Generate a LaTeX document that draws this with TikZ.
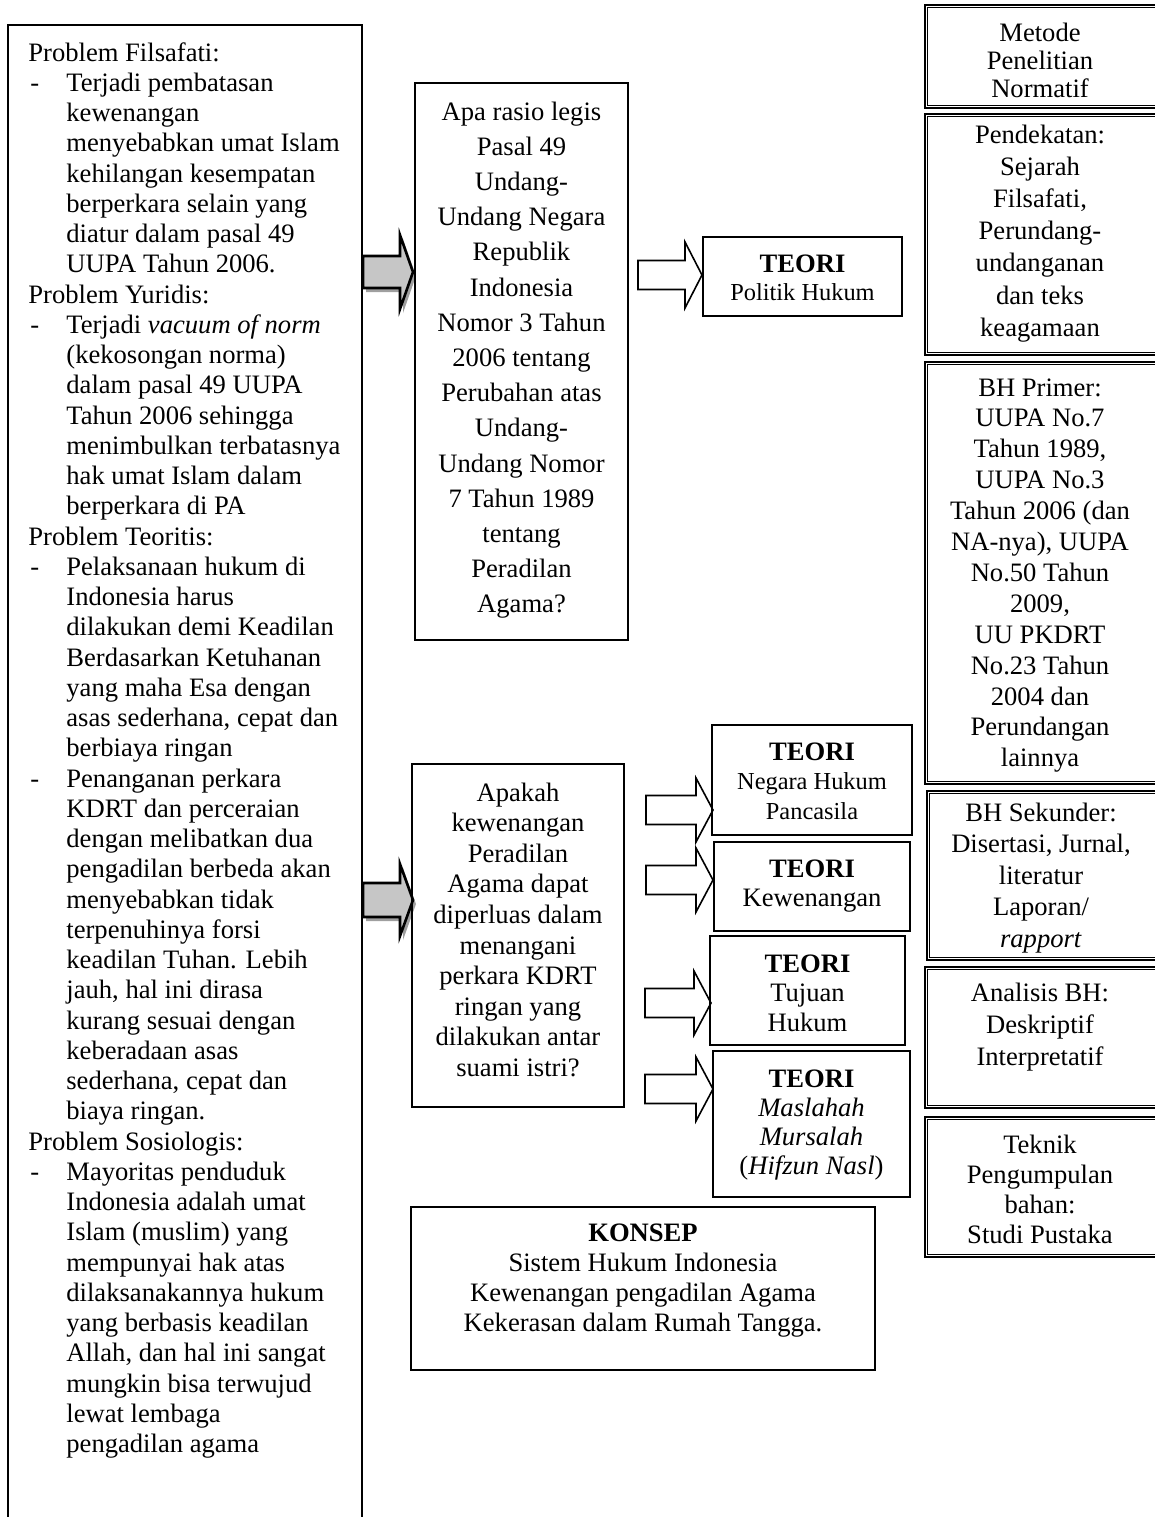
\documentclass[tikz,border=0pt]{standalone}
\usepackage{fontspec}
\setmainfont{Liberation Serif}
\usetikzlibrary{fit}
\newcommand\di{\makebox[19pt][l]{\hspace{1pt}-}}
\newcommand\ii{\hspace*{19pt}}
\newcommand\ctext[3]{\parbox[t]{220pt}{\centering\fontsize{#1}{#2}\selectfont #3}}
\newcommand\blockarr[7]{%
  \draw[#1] (#2,#5-#6) -- (#3,#5-#6) -- (#3,#5-#7) -- (#4,#5) -- (#3,#5+#7) -- (#3,#5+#6) -- (#2,#5+#6) -- cycle;}
\newcommand\dblbox[5]{%
  \node[fit={(#2,#3) (#4,#5)}, inner sep=0pt, draw, line width=1.1pt] (#1) {};
  \draw[line width=0.5pt] ([shift={(3.5,3.5)}]#1.north west) rectangle ([shift={(-3.5,-3.5)}]#1.south east);}
\tikzset{
  plainbox/.style={draw, line width=0.9pt, inner sep=0pt},
  txt/.style={anchor=base, inner sep=0pt},
  grayarrow/.style={fill=gray!45, draw=black, line width=1.3pt, line join=miter},
  arrowshadow/.style={fill=gray!75, draw=none},
  whitearrow/.style={fill=white, draw=black, line width=0.8pt, line join=miter},
}
\begin{document}
\begin{tikzpicture}[x=0.5pt, y=-0.5pt]
\useasboundingbox (0,0) rectangle (1155,1517);

% left box (open at the bottom)
\draw[line width=0.8pt] (8,1540) -- (8,25) -- (362,25) -- (362,1540);
\node[anchor=base west, inner sep=0pt] (lefttext) at (28,61) {\parbox[t]{190pt}{\raggedright\fontsize{13.3}{15.125}\selectfont
Problem Filsafati:\\
\di Terjadi pembatasan\\
\ii kewenangan\\
\ii menyebabkan umat Islam\\
\ii kehilangan kesempatan\\
\ii berperkara selain yang\\
\ii diatur dalam pasal 49\\
\ii UUPA Tahun 2006.\\
Problem Yuridis:\\
\di Terjadi \textit{vacuum of norm}\\
\ii (kekosongan norma)\\
\ii dalam pasal 49 UUPA\\
\ii Tahun 2006 sehingga\\
\ii menimbulkan terbatasnya\\
\ii hak umat Islam dalam\\
\ii berperkara di PA\\
Problem Teoritis:\\
\di Pelaksanaan hukum di\\
\ii Indonesia harus\\
\ii dilakukan demi Keadilan\\
\ii Berdasarkan Ketuhanan\\
\ii yang maha Esa dengan\\
\ii asas sederhana, cepat dan\\
\ii berbiaya ringan\\
\di Penanganan perkara\\
\ii KDRT dan perceraian\\
\ii dengan melibatkan dua\\
\ii pengadilan berbeda akan\\
\ii menyebabkan tidak\\
\ii terpenuhinya forsi\\
\ii keadilan Tuhan. Lebih\\
\ii jauh, hal ini dirasa\\
\ii kurang sesuai dengan\\
\ii keberadaan asas\\
\ii sederhana, cepat dan\\
\ii biaya ringan.\\
Problem Sosiologis:\\
\di Mayoritas penduduk\\
\ii Indonesia adalah umat\\
\ii Islam (muslim) yang\\
\ii mempunyai hak atas\\
\ii dilaksanakannya hukum\\
\ii yang berbasis keadilan\\
\ii Allah, dan hal ini sangat\\
\ii mungkin bisa terwujud\\
\ii lewat lembaga\\
\ii pengadilan agama}};

% gray arrows with shadow
\begin{scope}[shift={(3,4)}]
\blockarr{arrowshadow}{363}{400}{413}{272}{16}{37}
\blockarr{arrowshadow}{363}{400}{413}{900}{17}{36}
\end{scope}
\blockarr{grayarrow}{363}{400}{413}{272}{16}{37}
\blockarr{grayarrow}{363}{400}{413}{900}{17}{36}

% question boxes
\node[plainbox, fit={(415,83) (628,640)}] (q1) {};
\node[txt] (q1t) at (521.5,120) {\ctext{13.3}{17.6}{Apa rasio legis\\ Pasal 49\\ Undang-\\ Undang Negara\\ Republik\\ Indonesia\\ Nomor 3 Tahun\\ 2006 tentang\\ Perubahan atas\\ Undang-\\ Undang Nomor\\ 7 Tahun 1989\\ tentang\\ Peradilan\\ Agama?}};

\node[plainbox, fit={(412,764) (624,1107)}] (q2) {};
\node[txt] (q2t) at (518,801) {\ctext{13.3}{15.3}{Apakah\\ kewenangan\\ Peradilan\\ Agama dapat\\ diperluas dalam\\ menangani\\ perkara KDRT\\ ringan yang\\ dilakukan antar\\ suami istri?}};

% white arrows
\blockarr{whitearrow}{638}{685}{702}{275}{14.5}{33}
\blockarr{whitearrow}{646}{696}{713}{810}{14.5}{32}
\blockarr{whitearrow}{646}{696}{713}{880}{14.5}{32}
\blockarr{whitearrow}{645}{694}{711}{1003}{14.5}{32}
\blockarr{whitearrow}{645}{696}{713}{1089}{14.5}{32}

% theory boxes
\node[plainbox, fit={(703,237) (902,316)}] (tp) {};
\node[txt] (tpt) at (802.5,272) {\ctext{13.3}{14}{\textbf{TEORI}\\ {\fontsize{12.2}{14}\selectfont Politik Hukum}}};

\node[plainbox, fit={(712,725) (912,835)}] (t1) {};
\node[txt] (t1t) at (812,760) {\ctext{13.3}{14.75}{\textbf{TEORI}\\ {\fontsize{12.2}{14.75}\selectfont Negara Hukum\\ Pancasila}}};

\node[plainbox, fit={(714,842) (910,931)}] (t2) {};
\node[txt] (t2t) at (812,877) {\ctext{13.3}{14.75}{\textbf{TEORI}\\ Kewenangan}};

\node[plainbox, fit={(710,936) (905,1045)}] (t3) {};
\node[txt] (t3t) at (807.5,972) {\ctext{13.3}{14.75}{\textbf{TEORI}\\ Tujuan\\ Hukum}};

\node[plainbox, fit={(713,1051) (910,1197)}] (t4) {};
\node[txt] (t4t) at (811.5,1087) {\ctext{13.3}{14.5}{\textbf{TEORI}\\ \textit{Maslahah}\\ \textit{Mursalah}\\ (\textit{Hifzun Nasl})}};

% concept box
\node[plainbox, fit={(411,1207) (875,1370)}] (konsep) {};
\node[txt] (konsept) at (643,1241) {\ctext{13.3}{15}{\textbf{KONSEP}\\ Sistem Hukum Indonesia\\ Kewenangan pengadilan Agama\\ Kekerasan dalam Rumah Tangga.}};

% method column (double borders)
\dblbox{m1}{925}{5}{1163}{108}
\node[txt] (m1t) at (1040,41) {\ctext{13.3}{14}{Metode\\ Penelitian\\ Normatif}};

\dblbox{m2}{925}{114}{1163}{355}
\node[txt] (m2t) at (1040,143) {\ctext{13.3}{16.1}{Pendekatan:\\ Sejarah\\ Filsafati,\\ Perundang-\\ undanganan\\ dan teks\\ keagamaan}};

\dblbox{m3}{925}{362}{1163}{784}
\node[txt] (m3t) at (1040,396) {\ctext{13.3}{15.45}{BH Primer:\\ UUPA No.7\\ Tahun 1989,\\ UUPA No.3\\ Tahun 2006 (dan\\ NA-nya), UUPA\\ No.50 Tahun\\ 2009,\\ UU PKDRT\\ No.23 Tahun\\ 2004 dan\\ Perundangan\\ lainnya}};

\dblbox{m4}{927}{791}{1163}{960}
\node[txt] (m4t) at (1041,821) {\ctext{13.3}{15.8}{BH Sekunder:\\ Disertasi, Jurnal,\\ literatur\\ Laporan/\\ \textit{rapport}}};

\dblbox{m5}{925}{967}{1163}{1108}
\node[txt] (m5t) at (1040,1001) {\ctext{13.3}{16}{Analisis BH:\\ Deskriptif\\ Interpretatif}};

\dblbox{m6}{925}{1117}{1163}{1257}
\node[txt] (m6t) at (1040,1153) {\ctext{13.3}{15}{Teknik\\ Pengumpulan\\ bahan:\\ Studi Pustaka}};

\end{tikzpicture}
\end{document}
